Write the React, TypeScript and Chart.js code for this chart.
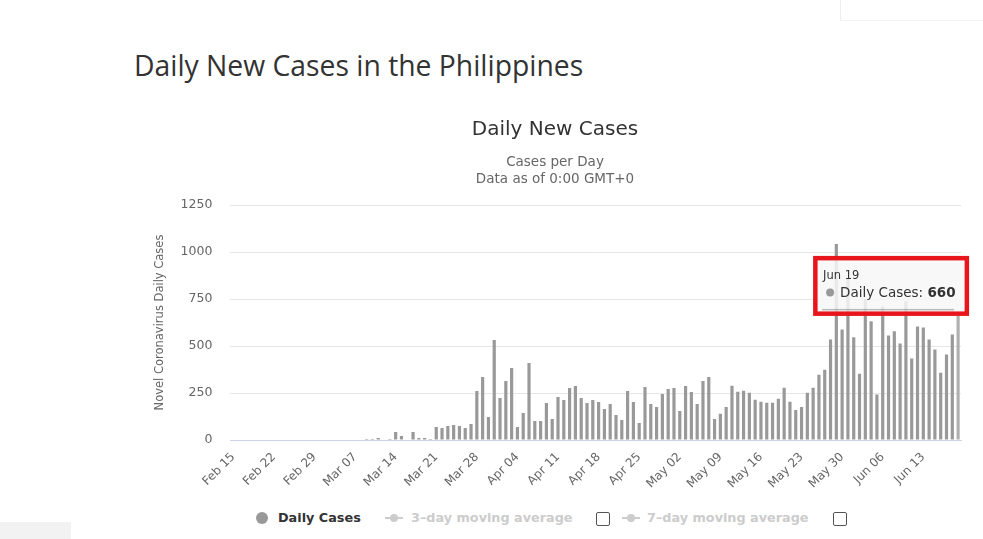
import React, { useEffect, useRef } from "react";
import { Chart, registerables } from "chart.js";

Chart.register(...registerables);

// ---- data ----
const monthSpans: [string, number, number][] = [
  ["Feb", 15, 29],
  ["Mar", 1, 31],
  ["Apr", 1, 30],
  ["May", 1, 31],
  ["Jun", 1, 19],
];
const categories: string[] = [];
for (const [m, a, b] of monthSpans) {
  for (let d = a; d <= b; d++) categories.push(`${m} ${d < 10 ? "0" + d : d}`);
}

const dailyCases: number[] = [
  // Feb 15 - Feb 29
  0, 0, 0, 0, 0, 0, 0, 0, 0, 0, 0, 0, 0, 0, 0,
  // Mar 01 - Mar 31
  0, 0, 0, 0, 0, 0, 0, 0, 5, 5, 11, 0, 5, 43, 21, 0, 43, 11, 11, 5,
  69, 64, 74, 80, 74, 64, 85, 261, 335, 122, 532,
  // Apr 01 - Apr 30
  223, 314, 383, 69, 144, 410, 101, 101, 197, 112, 229, 213, 277, 287, 223,
  197, 213, 202, 165, 191, 133, 106, 261, 202, 90, 282, 191, 176, 245, 271,
  // May 01 - May 31
  277, 154, 287, 255, 191, 314, 335, 112, 139, 176, 288, 256, 262, 251, 214,
  203, 198, 198, 219, 278, 203, 160, 176, 251, 278, 347, 374, 535, 1043, 588, 861,
  // Jun 01 - Jun 19
  546, 353, 748, 631, 242, 711, 556, 578, 513, 738, 433, 604, 599, 535, 481,
  358, 455, 561, 660,
];

const yTicks: number[] = [0, 250, 500, 750, 1000, 1250];
const seriesName = "Daily Cases";
const hoveredIndex = dailyCases.length - 1;

const FONT = "'DejaVu Sans', Verdana, sans-serif";

const tooltipPlugin = {
  id: "staticTooltip",
  afterDraw(chart: any) {
    const meta = chart.getDatasetMeta(0);
    const el = meta.data[hoveredIndex];
    if (!el) return;
    const ctx = chart.ctx as CanvasRenderingContext2D;
    const w = 156;
    const h = 60;
    const right = el.x + 11;
    const left = right - w;
    const bottom = el.y;
    const top = bottom - h;
    ctx.save();
    // tooltip body
    ctx.fillStyle = "rgba(247,247,247,0.85)";
    ctx.fillRect(left + 4, top + 4, w - 8, h - 8);
    ctx.fillStyle = "rgba(0,0,0,0.25)";
    ctx.fillRect(left + 9, bottom - 7, w - 24, 1.5);
    // red highlight frame
    ctx.strokeStyle = "#e8151d";
    ctx.lineWidth = 4.5;
    ctx.strokeRect(left + 2.25, top + 2.25, w - 4.5, h - 4.5);
    // text
    ctx.fillStyle = "#333";
    ctx.textBaseline = "alphabetic";
    ctx.textAlign = "left";
    ctx.font = `11.5px ${FONT}`;
    ctx.fillText(categories[hoveredIndex], left + 10, top + 23);
    ctx.fillStyle = "#999";
    ctx.beginPath();
    ctx.arc(left + 17, top + 36.5, 4, 0, Math.PI * 2);
    ctx.fill();
    ctx.fillStyle = "#333";
    ctx.font = `13.5px ${FONT}`;
    const lbl = `${seriesName}: `;
    ctx.fillText(lbl, left + 27, top + 41.5);
    const lw = ctx.measureText(lbl).width;
    ctx.font = `bold 13.5px ${FONT}`;
    ctx.fillText(String(dailyCases[hoveredIndex]), left + 27 + lw, top + 41.5);
    ctx.restore();
  },
};

function ChartCanvas() {
  const ref = useRef<HTMLCanvasElement | null>(null);
  useEffect(() => {
    if (!ref.current) return;
    const colors = dailyCases.map((_, i) => (i === hoveredIndex ? "#b0b0b0" : "#999999"));
    const chart = new Chart(ref.current, {
      type: "bar",
      data: {
        labels: categories,
        datasets: [
          {
            label: seriesName,
            data: dailyCases,
            backgroundColor: colors,
            borderWidth: 0,
            barPercentage: 0.55,
            categoryPercentage: 1,
          },
        ],
      },
      options: {
        animation: false,
        responsive: false,
        maintainAspectRatio: false,
        layout: { padding: { left: 14, right: 14, top: 0, bottom: 0 } },
        plugins: {
          legend: { display: false },
          tooltip: { enabled: false },
          title: {
            display: true,
            text: "Daily New Cases",
            color: "#333333",
            font: { family: FONT, size: 20, weight: "normal", lineHeight: 1.2 },
            padding: { top: 18, bottom: 0 },
          },
          subtitle: {
            display: true,
            text: ["Cases per Day", "Data as of 0:00 GMT+0"],
            color: "#666666",
            font: { family: FONT, size: 13.5, weight: "normal", lineHeight: 17 / 13.5 },
            padding: { top: 11.5, bottom: 17.5 },
          },
        },
        scales: {
          x: {
            grid: { display: false },
            border: { display: true, color: "#ccd6eb", width: 1 },
            ticks: {
              autoSkip: false,
              maxRotation: 45,
              minRotation: 45,
              color: "#666666",
              font: { family: FONT, size: 12 },
              padding: 2,
              callback: (_v: any, i: number) => (i % 7 === 0 ? categories[i] : ""),
            },
            afterFit: (s: any) => {
              s.height = 60;
            },
          },
          y: {
            min: yTicks[0],
            max: yTicks[yTicks.length - 1],
            ticks: {
              stepSize: 250,
              color: "#666666",
              font: { family: FONT, size: 12.5 },
              padding: 18,
              callback: (v: any) => String(v),
            },
            grid: { color: "#e6e6e6", drawTicks: false },
            border: { display: false },
            title: {
              display: true,
              text: "Novel Coronavirus Daily Cases",
              color: "#666666",
              font: { family: FONT, size: 11.5 },
              padding: { top: 4, bottom: 4 },
            },
            afterFit: (s: any) => {
              s.width = 81.4;
            },
          },
        },
      },
      plugins: [tooltipPlugin],
    });
    return () => chart.destroy();
  }, []);
  return (
    <canvas
      ref={ref}
      width={840}
      height={400}
      style={{ position: "absolute", left: 135, top: 100, width: 840, height: 400 }}
    />
  );
}

const legendText: React.CSSProperties = {
  position: "absolute",
  top: 510,
  fontFamily: FONT,
  fontSize: 12.8,
  fontWeight: "bold",
  lineHeight: "16px",
  whiteSpace: "nowrap",
};

function Checkbox({ left }: { left: number }) {
  return (
    <div
      style={{
        position: "absolute",
        left,
        top: 512,
        width: 12,
        height: 12,
        border: "1px solid #555",
        borderRadius: 2,
        background: "#fff",
      }}
    />
  );
}

function LineSymbol({ left }: { left: number }) {
  return (
    <>
      <div style={{ position: "absolute", left, top: 517, width: 18, height: 2, background: "#cccccc" }} />
      <div
        style={{
          position: "absolute",
          left: left + 5,
          top: 514,
          width: 8,
          height: 8,
          borderRadius: 4,
          background: "#cccccc",
        }}
      />
    </>
  );
}

export default function App() {
  return (
    <div
      style={{
        position: "fixed",
        left: 0,
        top: 0,
        width: 983,
        height: 539,
        background: "#fff",
        overflow: "hidden",
      }}
    >
      <div
        style={{
          position: "absolute",
          left: 840,
          top: -1,
          width: 160,
          height: 21,
          borderLeft: "1px solid #eeeeee",
          borderBottom: "1px solid #f3f3f3",
        }}
      />
      <div style={{ position: "absolute", left: 0, top: 522, width: 71, height: 17, background: "#f2f2f2" }} />
      <div
        style={{
          position: "absolute",
          left: 134,
          top: 46,
          fontFamily: "'Open Sans', sans-serif",
          fontSize: 28.3,
          lineHeight: "38px",
          color: "#333",
          whiteSpace: "nowrap",
        }}
      >
        Daily New Cases in the Philippines
      </div>
      <ChartCanvas />
      <div
        style={{
          position: "absolute",
          left: 256,
          top: 512,
          width: 12,
          height: 12,
          borderRadius: 6,
          background: "#999",
        }}
      />
      <div style={{ ...legendText, left: 278, color: "#333" }}>Daily Cases</div>
      <LineSymbol left={385} />
      <div style={{ ...legendText, left: 411, color: "#cccccc" }}>3–day moving average</div>
      <Checkbox left={596} />
      <LineSymbol left={622} />
      <div style={{ ...legendText, left: 647, color: "#cccccc" }}>7–day moving average</div>
      <Checkbox left={833} />
    </div>
  );
}
